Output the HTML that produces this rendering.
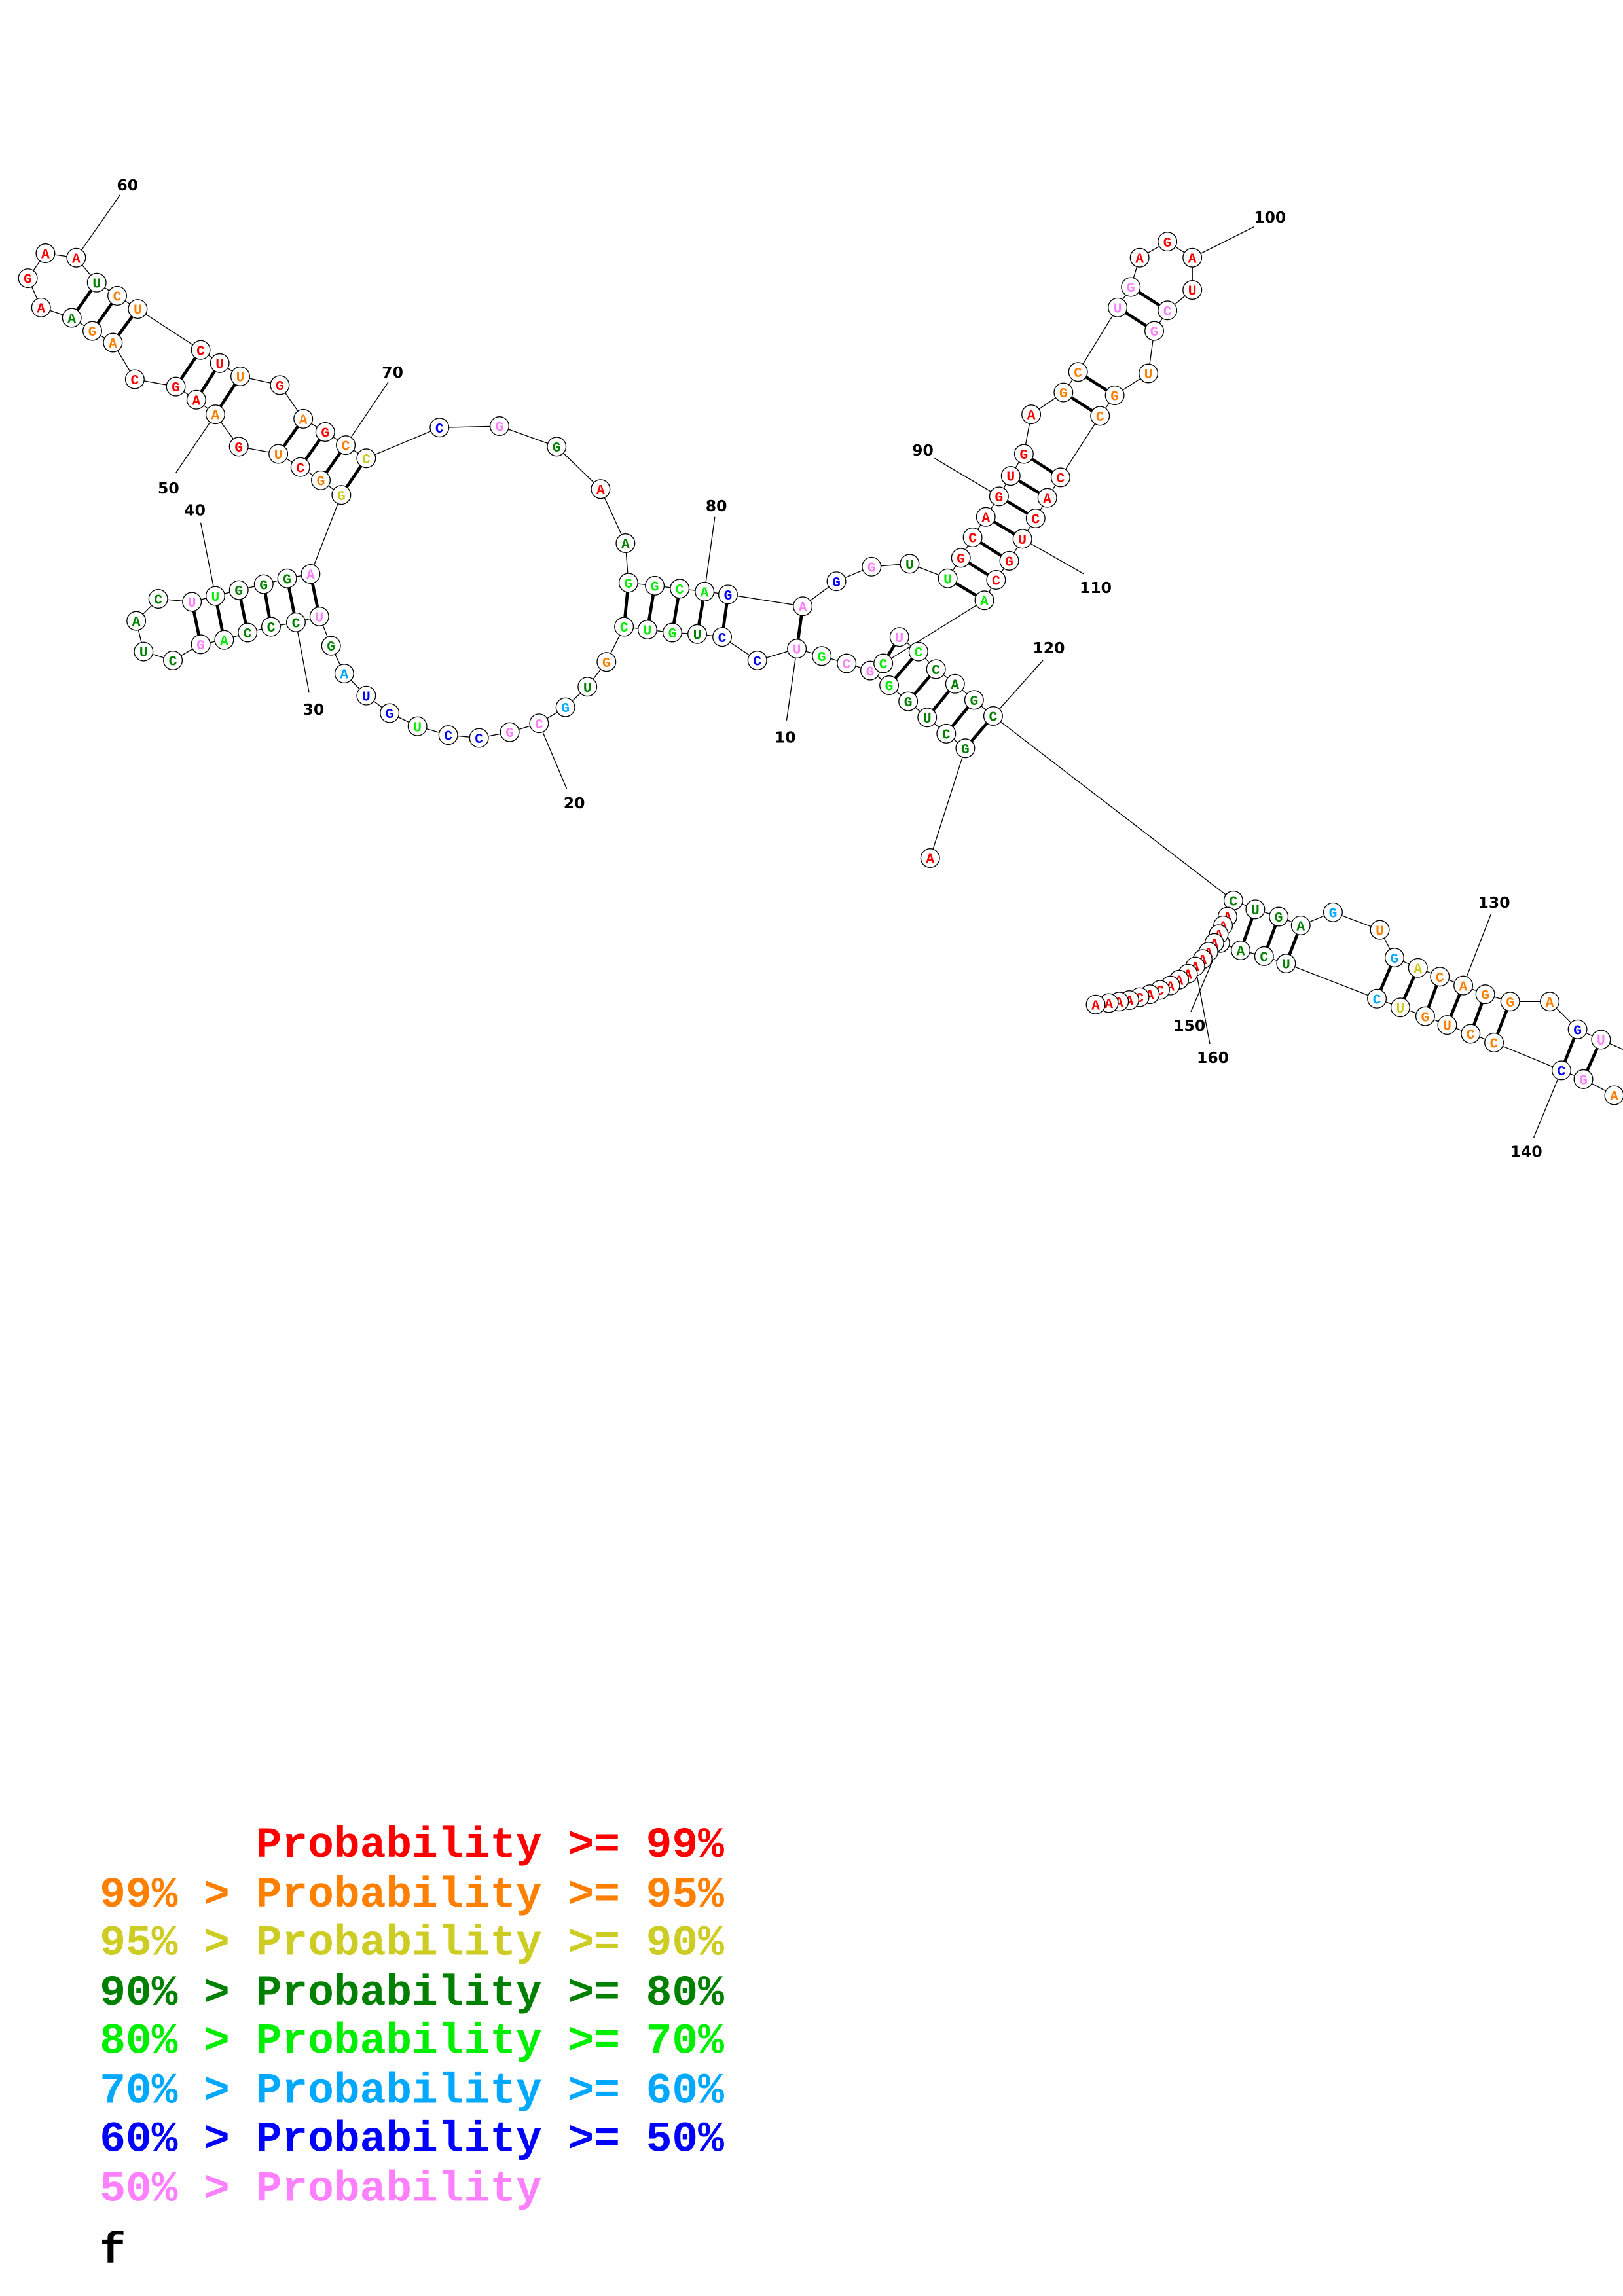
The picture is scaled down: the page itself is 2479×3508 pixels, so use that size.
<!DOCTYPE html>
<html><head><meta charset="utf-8">
<style>
html,body{margin:0;padding:0;background:#fff;}
svg{display:block;}
.n circle{fill:#fff;stroke:#000;stroke-width:0.6;}
.n text{font-family:"Liberation Mono","DejaVu Sans Mono",monospace;font-weight:bold;font-size:9.5px;text-anchor:middle;}
.r{fill:#ff0000}.o{fill:#ff8000}.y{fill:#cccc22}.d{fill:#008000}.g{fill:#00ee00}.l{fill:#00a8ff}.b{fill:#0000ff}.p{fill:#ff80ff}
.lbl{font-family:"DejaVu Sans","Liberation Sans",sans-serif;font-weight:bold;font-size:10.5px;text-anchor:middle;fill:#000;}
.leg{font-family:"Liberation Mono","DejaVu Sans Mono",monospace;font-weight:bold;font-size:29.6px;white-space:pre;}
</style></head><body>
<svg xmlns="http://www.w3.org/2000/svg" width="2479" height="3508" viewBox="0 0 1108 1568">
<rect width="1108" height="1568" fill="#fff"/>
<!-- label lines -->
<g stroke="#000" stroke-width="0.6" fill="none">
<line x1="544" y1="443" x2="537" y2="492"/>
<line x1="368" y1="494" x2="387" y2="539"/>
<line x1="202" y1="425" x2="211" y2="473"/>
<line x1="147" y1="407" x2="137" y2="357"/>
<line x1="147" y1="283" x2="120" y2="323"/>
<line x1="52" y1="176" x2="82" y2="133"/>
<line x1="236" y1="304" x2="265" y2="261"/>
<line x1="481" y1="404" x2="488" y2="353"/>
<line x1="682" y1="339" x2="638" y2="313"/>
<line x1="814" y1="176" x2="856" y2="155"/>
<line x1="698" y1="368" x2="740" y2="392"/>
<line x1="678" y1="489" x2="712" y2="451"/>
<line x1="999" y1="673" x2="1018" y2="624"/>
<line x1="1066" y1="731" x2="1047" y2="777"/>
<line x1="833" y1="644" x2="813" y2="691"/>
<line x1="816" y1="660" x2="826" y2="713"/>
</g>
<g class="lbl">
<text x="536" y="507">10</text><text x="392" y="552">20</text><text x="214" y="488">30</text>
<text x="133" y="352">40</text><text x="115" y="337">50</text><text x="87" y="130">60</text>
<text x="268" y="258">70</text><text x="489" y="349">80</text><text x="630" y="311">90</text>
<text x="867" y="152">100</text><text x="748" y="405">110</text><text x="716" y="446">120</text>
<text x="1020" y="620">130</text><text x="1042" y="790">140</text><text x="812" y="704">150</text><text x="828" y="726">160</text>
</g>
<!-- backbone -->
<polyline fill="none" stroke="#000" stroke-width="0.6" points="635,586 659,511 646,501 633,490 620,479 607,468 594,458 578,453 561,448 544,443 517,451 493,435 476,433 459,432 442,430 426,428 414,452 401,469 386,483 368,494 348,500 327,504 306,502 285,496 266,487 250,475 235,460 226,441 218,421 202,425 185,428 169,432 153,437 137,440 118,451 98,445 93,424 108,409 131,411 147,407 163,403 180,399 196,395 212,392 233,338 219,328 205,319 190,310 163,305 147,283 134,273 120,264 92,259 77,234 63,226 49,217 28,210 19,190 31,173 52,176 66,193 80,202 94,211 137,239 150,248 164,257 191,263 207,286 222,295 236,304 250,313 300,292 341,291 380,305 410,334 427,371 429,398 447,400 464,402 481,404 497,406 548,414 571,397 595,387 621,385 647,395 656,381 664,367 673,353 682,339 690,325 699,310 704,283 726,268 736,254 763,210 772,196 778,176 797,165 814,176 814,198 797,212 788,226 784,255 761,270 751,284 724,326 715,340 707,354 698,368 689,383 680,396 672,410 603,453 614,435 627,445 639,457 652,467 665,478 678,489 842,615 857,621 873,626 888,632 910,623 942,635 952,654 968,661 983,667 999,673 1014,679 1031,684 1058,684 1077,703 1093,710 1120,722 1125,740 1102,748 1081,737 1066,731 1020,712 1004,706 988,700 973,694 956,688 940,682 878,658 863,653 847,649 833,644 838,626 835,632 832,638 829,644 825,650 821,655 816,660 811,665 805,669 799,673 792,676 785,679 778,681 771,683 764,684 757,685 748,686"/>
<!-- pairs -->
<g stroke="#000" stroke-width="2.1">
<line x1="659" y1="511" x2="678" y2="489"/><line x1="646" y1="501" x2="665" y2="478"/><line x1="633" y1="490" x2="652" y2="467"/><line x1="620" y1="479" x2="639" y2="457"/><line x1="607" y1="468" x2="627" y2="445"/><line x1="603" y1="453" x2="614" y2="435"/>
<line x1="544" y1="443" x2="548" y2="414"/><line x1="493" y1="435" x2="497" y2="406"/><line x1="476" y1="433" x2="481" y2="404"/><line x1="459" y1="432" x2="464" y2="402"/><line x1="442" y1="430" x2="447" y2="400"/><line x1="426" y1="428" x2="429" y2="398"/>
<line x1="218" y1="421" x2="212" y2="392"/><line x1="202" y1="425" x2="196" y2="395"/><line x1="185" y1="428" x2="180" y2="399"/><line x1="169" y1="432" x2="163" y2="403"/><line x1="153" y1="437" x2="147" y2="407"/><line x1="137" y1="440" x2="131" y2="411"/>
<line x1="233" y1="338" x2="250" y2="313"/><line x1="219" y1="328" x2="236" y2="304"/><line x1="205" y1="319" x2="222" y2="295"/><line x1="190" y1="310" x2="207" y2="286"/>
<line x1="147" y1="283" x2="164" y2="257"/><line x1="134" y1="273" x2="150" y2="248"/><line x1="120" y1="264" x2="137" y2="239"/>
<line x1="77" y1="234" x2="94" y2="211"/><line x1="63" y1="226" x2="80" y2="202"/><line x1="49" y1="217" x2="66" y2="193"/>
<line x1="647" y1="395" x2="672" y2="410"/><line x1="656" y1="381" x2="680" y2="396"/><line x1="664" y1="367" x2="689" y2="383"/><line x1="673" y1="353" x2="698" y2="368"/><line x1="682" y1="339" x2="707" y2="354"/><line x1="690" y1="325" x2="715" y2="340"/><line x1="699" y1="310" x2="724" y2="326"/>
<line x1="726" y1="268" x2="751" y2="284"/><line x1="736" y1="254" x2="761" y2="270"/><line x1="763" y1="210" x2="788" y2="226"/><line x1="772" y1="196" x2="797" y2="212"/>
<line x1="842" y1="615" x2="833" y2="644"/><line x1="857" y1="621" x2="847" y2="649"/><line x1="873" y1="626" x2="863" y2="653"/><line x1="888" y1="632" x2="878" y2="658"/>
<line x1="952" y1="654" x2="940" y2="682"/><line x1="968" y1="661" x2="956" y2="688"/><line x1="983" y1="667" x2="973" y2="694"/><line x1="999" y1="673" x2="988" y2="700"/><line x1="1014" y1="679" x2="1004" y2="706"/><line x1="1031" y1="684" x2="1020" y2="712"/>
<line x1="1077" y1="703" x2="1066" y2="731"/><line x1="1093" y1="710" x2="1081" y2="737"/>
</g>
<!-- nodes -->
<g class="n">
<circle cx="635" cy="586" r="6.4"/><text x="635" y="589.4" class="r">A</text>
<circle cx="659" cy="511" r="6.4"/><text x="659" y="514.4" class="d">G</text>
<circle cx="646" cy="501" r="6.4"/><text x="646" y="504.4" class="d">C</text>
<circle cx="633" cy="490" r="6.4"/><text x="633" y="493.4" class="d">U</text>
<circle cx="620" cy="479" r="6.4"/><text x="620" y="482.4" class="d">G</text>
<circle cx="607" cy="468" r="6.4"/><text x="607" y="471.4" class="g">G</text>
<circle cx="594" cy="458" r="6.4"/><text x="594" y="461.4" class="p">G</text>
<circle cx="578" cy="453" r="6.4"/><text x="578" y="456.4" class="p">C</text>
<circle cx="561" cy="448" r="6.4"/><text x="561" y="451.4" class="g">G</text>
<circle cx="544" cy="443" r="6.4"/><text x="544" y="446.4" class="p">U</text>
<circle cx="517" cy="451" r="6.4"/><text x="517" y="454.4" class="b">C</text>
<circle cx="493" cy="435" r="6.4"/><text x="493" y="438.4" class="b">C</text>
<circle cx="476" cy="433" r="6.4"/><text x="476" y="436.4" class="d">U</text>
<circle cx="459" cy="432" r="6.4"/><text x="459" y="435.4" class="g">G</text>
<circle cx="442" cy="430" r="6.4"/><text x="442" y="433.4" class="g">U</text>
<circle cx="426" cy="428" r="6.4"/><text x="426" y="431.4" class="g">C</text>
<circle cx="414" cy="452" r="6.4"/><text x="414" y="455.4" class="o">G</text>
<circle cx="401" cy="469" r="6.4"/><text x="401" y="472.4" class="d">U</text>
<circle cx="386" cy="483" r="6.4"/><text x="386" y="486.4" class="l">G</text>
<circle cx="368" cy="494" r="6.4"/><text x="368" y="497.4" class="p">C</text>
<circle cx="348" cy="500" r="6.4"/><text x="348" y="503.4" class="p">G</text>
<circle cx="327" cy="504" r="6.4"/><text x="327" y="507.4" class="b">C</text>
<circle cx="306" cy="502" r="6.4"/><text x="306" y="505.4" class="b">C</text>
<circle cx="285" cy="496" r="6.4"/><text x="285" y="499.4" class="g">U</text>
<circle cx="266" cy="487" r="6.4"/><text x="266" y="490.4" class="b">G</text>
<circle cx="250" cy="475" r="6.4"/><text x="250" y="478.4" class="b">U</text>
<circle cx="235" cy="460" r="6.4"/><text x="235" y="463.4" class="l">A</text>
<circle cx="226" cy="441" r="6.4"/><text x="226" y="444.4" class="d">G</text>
<circle cx="218" cy="421" r="6.4"/><text x="218" y="424.4" class="p">U</text>
<circle cx="202" cy="425" r="6.4"/><text x="202" y="428.4" class="d">C</text>
<circle cx="185" cy="428" r="6.4"/><text x="185" y="431.4" class="d">C</text>
<circle cx="169" cy="432" r="6.4"/><text x="169" y="435.4" class="d">C</text>
<circle cx="153" cy="437" r="6.4"/><text x="153" y="440.4" class="g">A</text>
<circle cx="137" cy="440" r="6.4"/><text x="137" y="443.4" class="p">G</text>
<circle cx="118" cy="451" r="6.4"/><text x="118" y="454.4" class="d">C</text>
<circle cx="98" cy="445" r="6.4"/><text x="98" y="448.4" class="d">U</text>
<circle cx="93" cy="424" r="6.4"/><text x="93" y="427.4" class="d">A</text>
<circle cx="108" cy="409" r="6.4"/><text x="108" y="412.4" class="d">C</text>
<circle cx="131" cy="411" r="6.4"/><text x="131" y="414.4" class="p">U</text>
<circle cx="147" cy="407" r="6.4"/><text x="147" y="410.4" class="g">U</text>
<circle cx="163" cy="403" r="6.4"/><text x="163" y="406.4" class="d">G</text>
<circle cx="180" cy="399" r="6.4"/><text x="180" y="402.4" class="d">G</text>
<circle cx="196" cy="395" r="6.4"/><text x="196" y="398.4" class="d">G</text>
<circle cx="212" cy="392" r="6.4"/><text x="212" y="395.4" class="p">A</text>
<circle cx="233" cy="338" r="6.4"/><text x="233" y="341.4" class="y">G</text>
<circle cx="219" cy="328" r="6.4"/><text x="219" y="331.4" class="o">G</text>
<circle cx="205" cy="319" r="6.4"/><text x="205" y="322.4" class="r">C</text>
<circle cx="190" cy="310" r="6.4"/><text x="190" y="313.4" class="o">U</text>
<circle cx="163" cy="305" r="6.4"/><text x="163" y="308.4" class="r">G</text>
<circle cx="147" cy="283" r="6.4"/><text x="147" y="286.4" class="o">A</text>
<circle cx="134" cy="273" r="6.4"/><text x="134" y="276.4" class="r">A</text>
<circle cx="120" cy="264" r="6.4"/><text x="120" y="267.4" class="r">G</text>
<circle cx="92" cy="259" r="6.4"/><text x="92" y="262.4" class="r">C</text>
<circle cx="77" cy="234" r="6.4"/><text x="77" y="237.4" class="o">A</text>
<circle cx="63" cy="226" r="6.4"/><text x="63" y="229.4" class="o">G</text>
<circle cx="49" cy="217" r="6.4"/><text x="49" y="220.4" class="d">A</text>
<circle cx="28" cy="210" r="6.4"/><text x="28" y="213.4" class="r">A</text>
<circle cx="19" cy="190" r="6.4"/><text x="19" y="193.4" class="r">G</text>
<circle cx="31" cy="173" r="6.4"/><text x="31" y="176.4" class="r">A</text>
<circle cx="52" cy="176" r="6.4"/><text x="52" y="179.4" class="r">A</text>
<circle cx="66" cy="193" r="6.4"/><text x="66" y="196.4" class="d">U</text>
<circle cx="80" cy="202" r="6.4"/><text x="80" y="205.4" class="o">C</text>
<circle cx="94" cy="211" r="6.4"/><text x="94" y="214.4" class="o">U</text>
<circle cx="137" cy="239" r="6.4"/><text x="137" y="242.4" class="r">C</text>
<circle cx="150" cy="248" r="6.4"/><text x="150" y="251.4" class="r">U</text>
<circle cx="164" cy="257" r="6.4"/><text x="164" y="260.4" class="o">U</text>
<circle cx="191" cy="263" r="6.4"/><text x="191" y="266.4" class="r">G</text>
<circle cx="207" cy="286" r="6.4"/><text x="207" y="289.4" class="o">A</text>
<circle cx="222" cy="295" r="6.4"/><text x="222" y="298.4" class="r">G</text>
<circle cx="236" cy="304" r="6.4"/><text x="236" y="307.4" class="o">C</text>
<circle cx="250" cy="313" r="6.4"/><text x="250" y="316.4" class="y">C</text>
<circle cx="300" cy="292" r="6.4"/><text x="300" y="295.4" class="b">C</text>
<circle cx="341" cy="291" r="6.4"/><text x="341" y="294.4" class="p">G</text>
<circle cx="380" cy="305" r="6.4"/><text x="380" y="308.4" class="d">G</text>
<circle cx="410" cy="334" r="6.4"/><text x="410" y="337.4" class="r">A</text>
<circle cx="427" cy="371" r="6.4"/><text x="427" y="374.4" class="d">A</text>
<circle cx="429" cy="398" r="6.4"/><text x="429" y="401.4" class="g">G</text>
<circle cx="447" cy="400" r="6.4"/><text x="447" y="403.4" class="g">G</text>
<circle cx="464" cy="402" r="6.4"/><text x="464" y="405.4" class="g">C</text>
<circle cx="481" cy="404" r="6.4"/><text x="481" y="407.4" class="g">A</text>
<circle cx="497" cy="406" r="6.4"/><text x="497" y="409.4" class="b">G</text>
<circle cx="548" cy="414" r="6.4"/><text x="548" y="417.4" class="p">A</text>
<circle cx="571" cy="397" r="6.4"/><text x="571" y="400.4" class="b">G</text>
<circle cx="595" cy="387" r="6.4"/><text x="595" y="390.4" class="p">G</text>
<circle cx="621" cy="385" r="6.4"/><text x="621" y="388.4" class="d">U</text>
<circle cx="647" cy="395" r="6.4"/><text x="647" y="398.4" class="g">U</text>
<circle cx="656" cy="381" r="6.4"/><text x="656" y="384.4" class="r">G</text>
<circle cx="664" cy="367" r="6.4"/><text x="664" y="370.4" class="r">C</text>
<circle cx="673" cy="353" r="6.4"/><text x="673" y="356.4" class="r">A</text>
<circle cx="682" cy="339" r="6.4"/><text x="682" y="342.4" class="r">G</text>
<circle cx="690" cy="325" r="6.4"/><text x="690" y="328.4" class="r">U</text>
<circle cx="699" cy="310" r="6.4"/><text x="699" y="313.4" class="r">G</text>
<circle cx="704" cy="283" r="6.4"/><text x="704" y="286.4" class="r">A</text>
<circle cx="726" cy="268" r="6.4"/><text x="726" y="271.4" class="o">G</text>
<circle cx="736" cy="254" r="6.4"/><text x="736" y="257.4" class="o">C</text>
<circle cx="763" cy="210" r="6.4"/><text x="763" y="213.4" class="p">U</text>
<circle cx="772" cy="196" r="6.4"/><text x="772" y="199.4" class="p">G</text>
<circle cx="778" cy="176" r="6.4"/><text x="778" y="179.4" class="r">A</text>
<circle cx="797" cy="165" r="6.4"/><text x="797" y="168.4" class="r">G</text>
<circle cx="814" cy="176" r="6.4"/><text x="814" y="179.4" class="r">A</text>
<circle cx="814" cy="198" r="6.4"/><text x="814" y="201.4" class="r">U</text>
<circle cx="797" cy="212" r="6.4"/><text x="797" y="215.4" class="p">C</text>
<circle cx="788" cy="226" r="6.4"/><text x="788" y="229.4" class="p">G</text>
<circle cx="784" cy="255" r="6.4"/><text x="784" y="258.4" class="o">U</text>
<circle cx="761" cy="270" r="6.4"/><text x="761" y="273.4" class="o">G</text>
<circle cx="751" cy="284" r="6.4"/><text x="751" y="287.4" class="o">C</text>
<circle cx="724" cy="326" r="6.4"/><text x="724" y="329.4" class="r">C</text>
<circle cx="715" cy="340" r="6.4"/><text x="715" y="343.4" class="r">A</text>
<circle cx="707" cy="354" r="6.4"/><text x="707" y="357.4" class="r">C</text>
<circle cx="698" cy="368" r="6.4"/><text x="698" y="371.4" class="r">U</text>
<circle cx="689" cy="383" r="6.4"/><text x="689" y="386.4" class="r">G</text>
<circle cx="680" cy="396" r="6.4"/><text x="680" y="399.4" class="r">C</text>
<circle cx="672" cy="410" r="6.4"/><text x="672" y="413.4" class="g">A</text>
<circle cx="614" cy="435" r="6.4"/><text x="614" y="438.4" class="p">U</text>
<circle cx="603" cy="453" r="6.4"/><text x="603" y="456.4" class="g">C</text>
<circle cx="627" cy="445" r="6.4"/><text x="627" y="448.4" class="g">C</text>
<circle cx="639" cy="457" r="6.4"/><text x="639" y="460.4" class="d">C</text>
<circle cx="652" cy="467" r="6.4"/><text x="652" y="470.4" class="d">A</text>
<circle cx="665" cy="478" r="6.4"/><text x="665" y="481.4" class="d">G</text>
<circle cx="678" cy="489" r="6.4"/><text x="678" y="492.4" class="d">C</text>
<circle cx="842" cy="615" r="6.4"/><text x="842" y="618.4" class="d">C</text>
<circle cx="857" cy="621" r="6.4"/><text x="857" y="624.4" class="d">U</text>
<circle cx="873" cy="626" r="6.4"/><text x="873" y="629.4" class="d">G</text>
<circle cx="888" cy="632" r="6.4"/><text x="888" y="635.4" class="d">A</text>
<circle cx="910" cy="623" r="6.4"/><text x="910" y="626.4" class="l">G</text>
<circle cx="942" cy="635" r="6.4"/><text x="942" y="638.4" class="o">U</text>
<circle cx="952" cy="654" r="6.4"/><text x="952" y="657.4" class="l">G</text>
<circle cx="968" cy="661" r="6.4"/><text x="968" y="664.4" class="y">A</text>
<circle cx="983" cy="667" r="6.4"/><text x="983" y="670.4" class="o">C</text>
<circle cx="999" cy="673" r="6.4"/><text x="999" y="676.4" class="o">A</text>
<circle cx="1014" cy="679" r="6.4"/><text x="1014" y="682.4" class="o">G</text>
<circle cx="1031" cy="684" r="6.4"/><text x="1031" y="687.4" class="o">G</text>
<circle cx="1058" cy="684" r="6.4"/><text x="1058" y="687.4" class="o">A</text>
<circle cx="1077" cy="703" r="6.4"/><text x="1077" y="706.4" class="b">G</text>
<circle cx="1093" cy="710" r="6.4"/><text x="1093" y="713.4" class="p">U</text>
<circle cx="1120" cy="722" r="6.4"/><text x="1120" y="725.4" class="o">A</text>
<circle cx="1125" cy="740" r="6.4"/><text x="1125" y="743.4" class="o">A</text>
<circle cx="1102" cy="748" r="6.4"/><text x="1102" y="751.4" class="o">A</text>
<circle cx="1081" cy="737" r="6.4"/><text x="1081" y="740.4" class="p">G</text>
<circle cx="1066" cy="731" r="6.4"/><text x="1066" y="734.4" class="b">C</text>
<circle cx="1020" cy="712" r="6.4"/><text x="1020" y="715.4" class="o">C</text>
<circle cx="1004" cy="706" r="6.4"/><text x="1004" y="709.4" class="o">C</text>
<circle cx="988" cy="700" r="6.4"/><text x="988" y="703.4" class="o">U</text>
<circle cx="973" cy="694" r="6.4"/><text x="973" y="697.4" class="o">G</text>
<circle cx="956" cy="688" r="6.4"/><text x="956" y="691.4" class="y">U</text>
<circle cx="940" cy="682" r="6.4"/><text x="940" y="685.4" class="l">C</text>
<circle cx="878" cy="658" r="6.4"/><text x="878" y="661.4" class="d">U</text>
<circle cx="863" cy="653" r="6.4"/><text x="863" y="656.4" class="d">C</text>
<circle cx="847" cy="649" r="6.4"/><text x="847" y="652.4" class="d">A</text>
<circle cx="833" cy="644" r="6.4"/><text x="833" y="647.4" class="d">G</text>
<circle cx="838" cy="626" r="6.4"/><text x="838" y="629.4" class="r">A</text>
<circle cx="835" cy="632" r="6.4"/><text x="835" y="635.4" class="r">A</text>
<circle cx="832" cy="638" r="6.4"/><text x="832" y="641.4" class="r">A</text>
<circle cx="829" cy="644" r="6.4"/><text x="829" y="647.4" class="r">A</text>
<circle cx="825" cy="650" r="6.4"/><text x="825" y="653.4" class="r">A</text>
<circle cx="821" cy="655" r="6.4"/><text x="821" y="658.4" class="r">A</text>
<circle cx="816" cy="660" r="6.4"/><text x="816" y="663.4" class="r">A</text>
<circle cx="811" cy="665" r="6.4"/><text x="811" y="668.4" class="r">A</text>
<circle cx="805" cy="669" r="6.4"/><text x="805" y="672.4" class="r">A</text>
<circle cx="799" cy="673" r="6.4"/><text x="799" y="676.4" class="r">A</text>
<circle cx="792" cy="676" r="6.4"/><text x="792" y="679.4" class="r">C</text>
<circle cx="785" cy="679" r="6.4"/><text x="785" y="682.4" class="r">A</text>
<circle cx="778" cy="681" r="6.4"/><text x="778" y="684.4" class="r">C</text>
<circle cx="771" cy="683" r="6.4"/><text x="771" y="686.4" class="r">A</text>
<circle cx="764" cy="684" r="6.4"/><text x="764" y="687.4" class="r">A</text>
<circle cx="757" cy="685" r="6.4"/><text x="757" y="688.4" class="r">A</text>
<circle cx="748" cy="686" r="6.4"/><text x="748" y="689.4" class="r">A</text>
</g>
<!-- legend -->
<g class="leg">
<text x="68" y="1268" class="r" xml:space="preserve">      Probability &gt;= 99%</text>
<text x="68" y="1302" class="o" xml:space="preserve">99% &gt; Probability &gt;= 95%</text>
<text x="68" y="1335" class="y" xml:space="preserve">95% &gt; Probability &gt;= 90%</text>
<text x="68" y="1369" class="d" xml:space="preserve">90% &gt; Probability &gt;= 80%</text>
<text x="68" y="1402" class="g" xml:space="preserve">80% &gt; Probability &gt;= 70%</text>
<text x="68" y="1436" class="l" xml:space="preserve">70% &gt; Probability &gt;= 60%</text>
<text x="68" y="1469" class="b" xml:space="preserve">60% &gt; Probability &gt;= 50%</text>
<text x="68" y="1503" class="p" xml:space="preserve">50% &gt; Probability</text>
<text x="68" y="1545" fill="#000">f</text>
</g>
</svg>
</body></html>
